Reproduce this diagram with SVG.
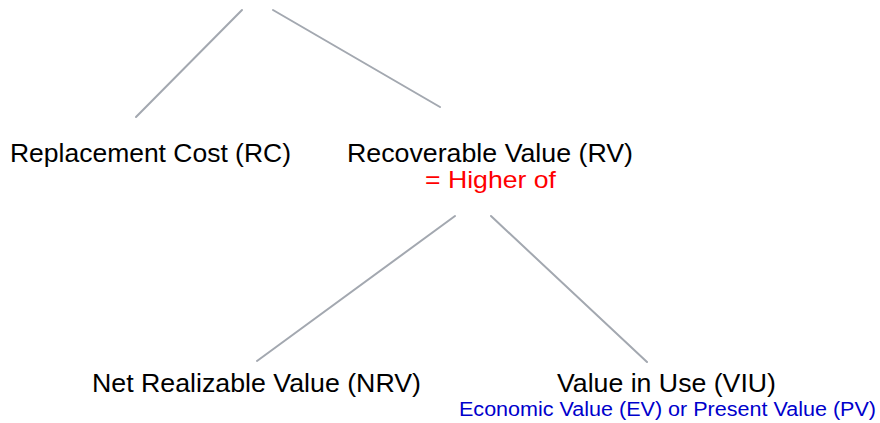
<svg xmlns="http://www.w3.org/2000/svg" width="880" height="423" viewBox="0 0 880 423">
  <style>
    .edge { stroke: #a3a8b0; stroke-width: 2; fill: none; stroke-linecap: round; }
    .label { font-family: "Liberation Sans", Arial, sans-serif; font-size: 26px; fill: #000; }
    .note-red { font-family: "Liberation Sans", Arial, sans-serif; font-size: 24px; fill: #ff0000; }
    .note-blue { font-family: "Liberation Sans", Arial, sans-serif; font-size: 20px; fill: #0000cc; }
  </style>
  <rect width="880" height="423" fill="#ffffff"/>
  <g id="connectors">
    <line class="edge" x1="242" y1="10" x2="136" y2="117"/>
    <line class="edge" x1="273" y1="10" x2="440" y2="107"/>
    <line class="edge" x1="455" y1="216" x2="257" y2="361"/>
    <line class="edge" x1="491" y1="216" x2="647" y2="362"/>
  </g>
  <g id="rc">
    <text class="label" x="10" y="162" textLength="281" lengthAdjust="spacingAndGlyphs">Replacement Cost (RC)</text>
  </g>
  <g id="rv">
    <text class="label" x="347" y="162" textLength="286" lengthAdjust="spacingAndGlyphs">Recoverable Value (RV)</text>
    <text class="note-red" x="425" y="188" textLength="131" lengthAdjust="spacingAndGlyphs">= Higher of</text>
  </g>
  <g id="nrv">
    <text class="label" x="92" y="392" textLength="329" lengthAdjust="spacingAndGlyphs">Net Realizable Value (NRV)</text>
  </g>
  <g id="viu">
    <text class="label" x="557" y="392" textLength="219" lengthAdjust="spacingAndGlyphs">Value in Use (VIU)</text>
    <text class="note-blue" x="459" y="416" textLength="417" lengthAdjust="spacingAndGlyphs">Economic Value (EV) or Present Value (PV)</text>
  </g>
</svg>
